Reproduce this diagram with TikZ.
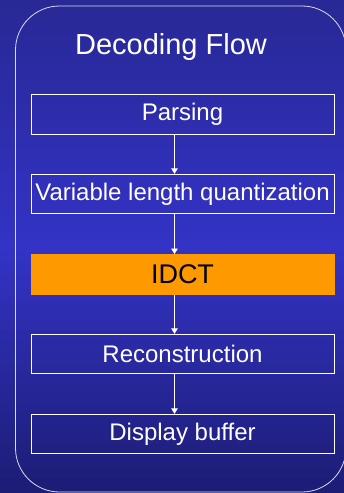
\documentclass[tikz,border=0pt]{standalone}
\usepackage{fontspec}
\setmainfont{Liberation Sans}
\newfontfamily\darkfont[Color=000000]{Liberation Sans}
\usetikzlibrary{arrows.meta}
\definecolor{bgtop}{HTML}{282896}
\definecolor{bgmid}{HTML}{3333C6}
\definecolor{bgbot}{HTML}{1C1C74}
\definecolor{idct}{HTML}{FF9900}
\definecolor{framecol}{HTML}{DCDCEC}
\tikzset{
  stepbox/.style={draw=white, line width=0.8pt, minimum width=303pt, minimum height=39.5pt,
    inner sep=0pt, text=white, font=\fontsize{24}{28}\selectfont},
  hotbox/.style={fill=idct, draw=none, minimum width=304pt, minimum height=40.5pt,
    inner sep=0pt, text=black, font=\darkfont\fontsize{27}{31}\selectfont},
  flow/.style={draw=white, line width=0.8pt, -{Triangle[width=6.5pt,length=5.5pt]}}
}
\begin{document}
\begin{tikzpicture}[x=1pt,y=-1pt]
\useasboundingbox (0,0) rectangle (344,493);
\begin{scope}
\clip (0,0) rectangle (344,493);
\foreach \k in {0,...,49}{
  \pgfmathtruncatemacro{\p}{2*\k}
  \fill[bgmid!\p!bgtop] (0,{\k*4.93}) rectangle (344,{\k*4.93+5.6});
  \fill[bgbot!\p!bgmid] (0,{246.5+\k*4.93}) rectangle (344,{246.5+\k*4.93+5.6});
}
\draw[framecol, line width=0.8pt, rounded corners=44pt] (15.5,6) rectangle (346,492);
\end{scope}
\node[text=white, font=\fontsize{29}{34}\selectfont] (title) at (171,47) {Decoding Flow};
\node[stepbox] (p) at (182.5,114.5) {Parsing};
\node[stepbox] (v) at (182.5,194) {Variable length quantization};
\node[hotbox]  (i) at (182.5,274.5) {IDCT};
\node[stepbox] (r) at (182.5,354) {Reconstruction};
\node[stepbox] (d) at (182.5,434) {Display buffer};
\draw[flow] (p.south -| 174.5,0) -- (v.north -| 174.5,0);
\draw[flow] (v.south -| 174.5,0) -- (i.north -| 174.5,0);
\draw[flow] (i.south -| 174.5,0) -- (r.north -| 174.5,0);
\draw[flow] (r.south -| 174.5,0) -- (d.north -| 174.5,0);
\end{tikzpicture}
\end{document}
